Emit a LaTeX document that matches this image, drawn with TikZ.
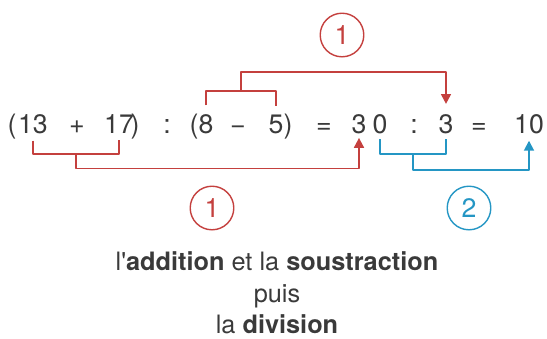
\documentclass[tikz,border=0pt]{standalone}
\usepackage{fontspec}
\setmainfont{TeX Gyre Heros}
\newfontfamily\droitfont[Ligatures=ResetAll]{TeX Gyre Heros}
\usetikzlibrary{arrows.meta}
\definecolor{rouge}{RGB}{196,64,62}
\definecolor{bleu}{RGB}{36,150,196}
\definecolor{gristexte}{RGB}{58,58,58}
\begin{document}
\begin{tikzpicture}[x=0.025cm,y=-0.025cm,
				line join = round,line cap = butt,>={Triangle[width=7pt,length=7pt]},inner sep = 0pt,
				chiffre/.style={anchor=base,text=gristexte,font=\fontsize{19}{22}\selectfont},
				crochetr/.style={draw = rouge,line width=1.3pt},
				crochetb/.style={draw = bleu,line width=1.3pt},
				rondr/.style={circle,draw = rouge,line width=1pt,text=rouge,minimum size=31pt,font=\fontsize{19}{22}\selectfont},
				rondb/.style={circle,draw = bleu,line width=1pt,text=bleu,minimum size=31pt,font=\fontsize{19}{22}\selectfont},
				legende/.style={align=center,text=gristexte,font=\fontsize{18}{22.4}\selectfont}]
				\useasboundingbox (0,0) rectangle (547,338);
				\node at (12,133) (po1) [chiffre] {(};
				\node at (33,133) (n13) [chiffre] {13};
				\node at (77,133) (plus) [chiffre] {+};
				\node at (119,133) (n17) [chiffre] {17};
				\node at (135,133) (pf1) [chiffre] {)};
				\node at (167,133) (dp1) [chiffre] {:};
				\node at (194,133) (po2) [chiffre] {(};
				\node at (206,133) (n8) [chiffre] {8};
				\node at (238,133) (moins) [chiffre] {−};
				\node at (276,133) (n5) [chiffre] {5};
				\node at (288,133) (pf2) [chiffre] {)};
				\node at (324,133) (eg1) [chiffre] {=};
				\node at (359,133) (trois) [chiffre] {3};
				\node at (380,133) (zero) [chiffre] {0};
				\node at (414,133) (dp2) [chiffre] {:};
				\node at (446,133) (troisb) [chiffre] {3};
				\node at (479,133) (eg2) [chiffre] {=};
				\node at (529,133) (dix) [chiffre] {10};
				\node at (342,35) (etape1h) [rondr] {1};
				\node at (212,208) (etape1b) [rondr] {1};
				\node at (469,208) (etape2) [rondb] {2};
				\node at (277,293) (texte) [legende] {l{\droitfont'}\textbf{addition} et la \textbf{soustraction}\\puis\\la \textbf{division}};
				\path (n13.south) -- coordinate (m1) (n17.south);
				\path (n8.north) -- coordinate (m2) (n5.north);
				\path (zero.south) -- coordinate (m3) (troisb.south);
				\draw[crochetr] ([yshift=-5pt]n13.south) -- ++(0,13) -| ([yshift=-5pt]n17.south);
				\draw[crochetr,->] (m1) ++(0,20) -- ++(0,15) -| ([yshift=-3pt]trois.south);
				\draw[crochetr] ([yshift=6pt]n8.north) -- ++(0,-14) -| ([yshift=6pt]n5.north);
				\draw[crochetr,->] (m2) ++(0,-22) -- ++(0,-20) -| ([yshift=7pt]troisb.north);
				\draw[crochetb] ([yshift=-4pt]zero.south) -- ++(0,15) -| ([yshift=-4pt]troisb.south);
				\draw[crochetb,->] (m3) ++(0,20) -- ++(0,16) -| ([yshift=-5pt]dix.south);
			\end{tikzpicture}
\end{document}
